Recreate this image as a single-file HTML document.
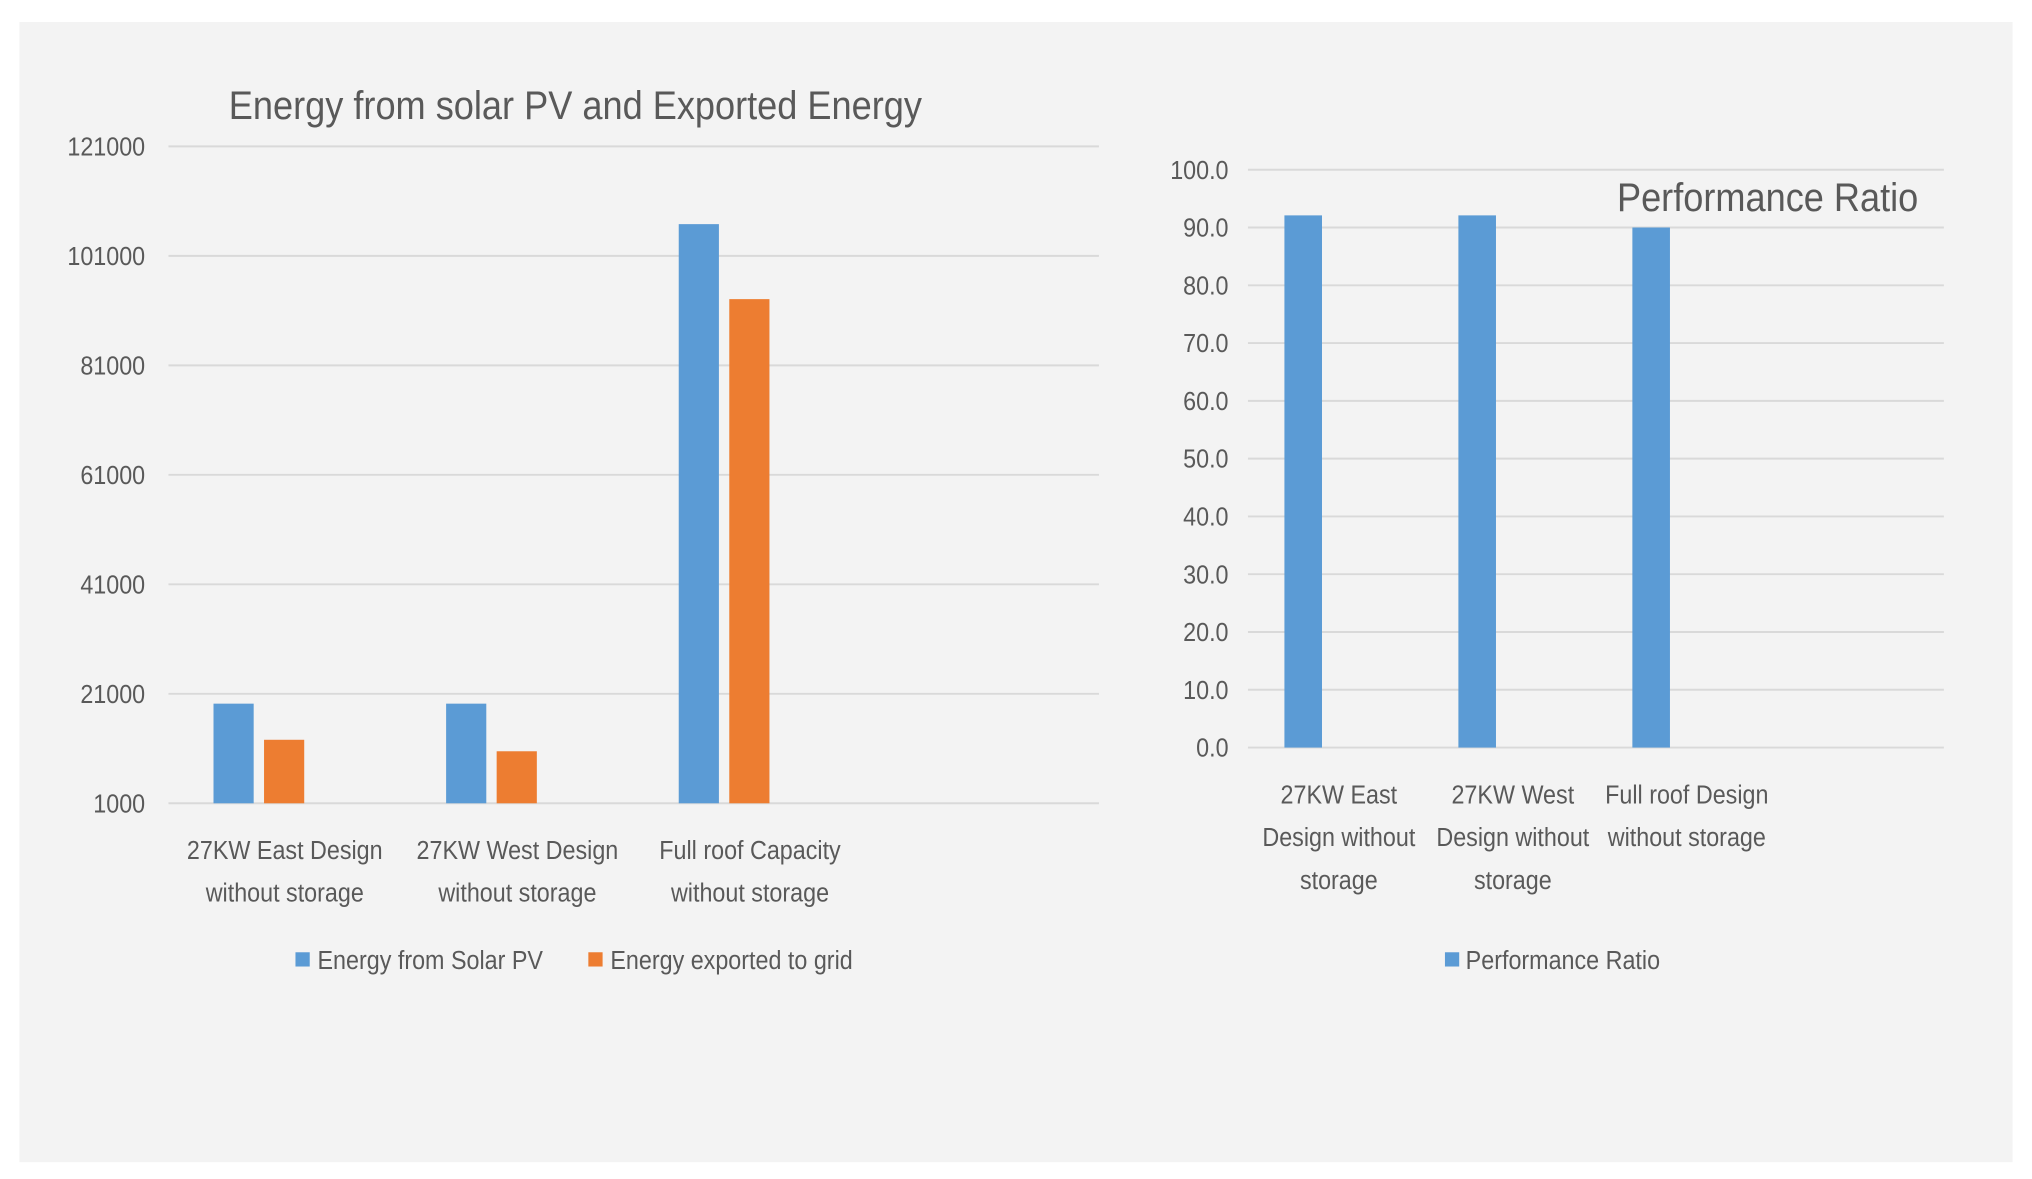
<!DOCTYPE html>
<html><head><meta charset="utf-8"><style>
html,body{margin:0;padding:0;background:#fff;}
svg{display:block;}
text{font-family:"Liberation Sans Narrow","Liberation Sans",sans-serif;fill:#595959;}
</style></head><body>
<svg id="svg" width="2032" height="1179" viewBox="0 0 1568 910" preserveAspectRatio="none" xmlns="http://www.w3.org/2000/svg">
<rect x="15" y="17" width="1538" height="880" fill="#f3f3f3"/>
<text x="444" y="92" font-size="31" text-anchor="middle">Energy from solar PV and Exported Energy</text>
<text x="1364" y="163" font-size="31" text-anchor="middle">Performance Ratio</text>
<g id="left"></g>
<g id="right"></g>
<g>
<rect x="228" y="735" width="11" height="11" fill="#5b9bd5"/>
<text x="245" y="748" font-size="20">Energy from Solar PV</text>
<rect x="454" y="735" width="11" height="11" fill="#ed7d31"/>
<text x="471" y="748" font-size="20">Energy exported to grid</text>
</g>
<g>
<rect x="1115" y="735" width="11" height="11" fill="#5b9bd5"/>
<text x="1131" y="748" font-size="20">Performance Ratio</text>
</g>
</svg>
<script>
const NS="http://www.w3.org/2000/svg";
const leftCategories=[["27KW East Design","without storage"],["27KW West Design","without storage"],["Full roof Capacity","without storage"]];
const solarValues=[19200,19200,106800];
const exportValues=[12600,10500,93100];
const leftTicks=[1000,21000,41000,61000,81000,101000,121000];
const rightCategories=[["27KW East","Design without","storage"],["27KW West","Design without","storage"],["Full roof Design","without storage"]];
const prValues=[92.1,92.1,90.0];
const rightTicks=[0,10,20,30,40,50,60,70,80,90,100];

function mk(tag,attrs,parent,txt){const e=document.createElementNS(NS,tag);for(const k in attrs)e.setAttribute(k,attrs[k]);if(txt!==undefined)e.textContent=txt;parent.appendChild(e);return e;}

// left chart
const L=document.getElementById('left');
const lx0=130,lx1=848,ly0=620,ly1=113,lmin=1000,lmax=121000;
const ly=v=>ly0-(v-lmin)/(lmax-lmin)*(ly0-ly1);
const lcw=(lx1-lx0)/4;
leftTicks.forEach((t,i)=>{
 const g=mk('line',{x1:lx0,x2:lx1,y1:ly(t),y2:ly(t),stroke:'#d9d9d9','stroke-width':1.5},L);
 
 
 const tx=mk('text',{x:112,y:ly(t)+7,'font-size':20,'text-anchor':'end'},L,String(t));
 
 
});
leftCategories.forEach((c,i)=>{
 const cx=lx0+lcw*(i+0.5);
 const b1=mk('rect',{x:cx-55,y:ly(solarValues[i]),width:31,height:ly0-ly(solarValues[i]),fill:'#5b9bd5'},L);
 
 
 const b2=mk('rect',{x:cx-16,y:ly(exportValues[i]),width:31,height:ly0-ly(exportValues[i]),fill:'#ed7d31'},L);
 
 
 c.forEach((ln,j)=>{
  const t=mk('text',{x:cx,y:663+j*33,'font-size':20,'text-anchor':'middle'},L,ln);
  
  
 });
});

// right chart
const R=document.getElementById('right');
const rx0=963,rx1=1500,ry0=577,ry1=131,rmin=0,rmax=100;
const ry=v=>ry0-(v-rmin)/(rmax-rmin)*(ry0-ry1);
const rcw=(rx1-rx0)/4;
rightTicks.forEach(t=>{
 const g=mk('line',{x1:rx0,x2:rx1,y1:ry(t),y2:ry(t),stroke:'#d9d9d9','stroke-width':1.5},R);
 
 
 const tx=mk('text',{x:948,y:ry(t)+7,'font-size':20,'text-anchor':'end'},R,t.toFixed(1));
 
 
});
rightCategories.forEach((c,i)=>{
 const cx=rx0+rcw*(i+0.5);
 const b=mk('rect',{x:cx-39,y:ry(prValues[i]),width:29,height:ry0-ry(prValues[i]),fill:'#5b9bd5'},R);
 
 
 c.forEach((ln,j)=>{
  const t=mk('text',{x:cx+3,y:620+j*33,'font-size':20,'text-anchor':'middle'},R,ln);
  
  
 });
});

// condense text to mimic narrow font
document.querySelectorAll('text').forEach(t=>{
 const w=t.getComputedTextLength();
 if(w>0){t.setAttribute('textLength',(w*0.9).toFixed(1));t.setAttribute('lengthAdjust','spacingAndGlyphs');}
});
</script>
</body></html>
